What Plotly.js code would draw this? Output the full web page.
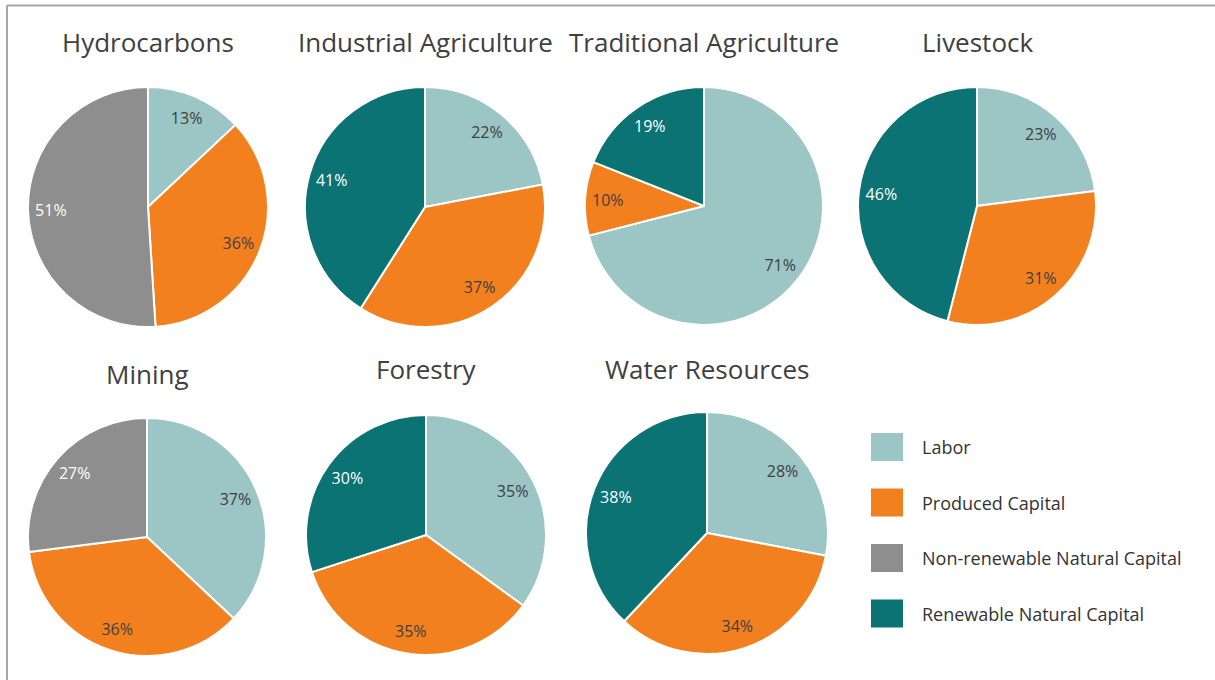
<!DOCTYPE html>
<html>
<head>
<meta charset="utf-8">
<script src="https://cdn.plot.ly/plotly-3.0.1.min.js"></script>
<style>
  html, body { margin: 0; padding: 0; background: #ffffff; }
  #chart { width: 1215px; height: 680px; }
</style>
</head>
<body>
<div id="chart"></div>
<script>
// ---------- DATA ----------
const sectors = ["Hydrocarbons", "Industrial Agriculture", "Traditional Agriculture", "Livestock",
                 "Mining", "Forestry", "Water Resources"];
const categories = ["Labor", "Produced Capital", "Non-renewable Natural Capital", "Renewable Natural Capital"];

// slice labels of each pie (clockwise from 12 o'clock)
const hydrocarbonsLabels = ["Labor", "Produced Capital", "Non-renewable Natural Capital"];
const hydrocarbonsValues = [13, 36, 51];
const industrialAgLabels = ["Labor", "Produced Capital", "Renewable Natural Capital"];
const industrialAgValues = [22, 37, 41];
const traditionalAgLabels = ["Labor", "Produced Capital", "Renewable Natural Capital"];
const traditionalAgValues = [71, 10, 19];
const livestockLabels = ["Labor", "Produced Capital", "Renewable Natural Capital"];
const livestockValues = [23, 31, 46];
const miningLabels = ["Labor", "Produced Capital", "Non-renewable Natural Capital"];
const miningValues = [37, 36, 27];
const forestryLabels = ["Labor", "Produced Capital", "Renewable Natural Capital"];
const forestryValues = [35, 35, 30];
const waterLabels = ["Labor", "Produced Capital", "Renewable Natural Capital"];
const waterValues = [28, 34, 38];

const pieLabels = [hydrocarbonsLabels, industrialAgLabels, traditionalAgLabels, livestockLabels,
                   miningLabels, forestryLabels, waterLabels];
const pieValues = [hydrocarbonsValues, industrialAgValues, traditionalAgValues, livestockValues,
                   miningValues, forestryValues, waterValues];

// ---------- STYLE / LAYOUT ----------
const W = 1215, H = 680;
const colorOf = {
  "Labor": "#9CC5C6",
  "Produced Capital": "#F2801E",
  "Non-renewable Natural Capital": "#8E8E8E",
  "Renewable Natural Capital": "#0B7373"
};
const textColorOf = {
  "Labor": "#404040",
  "Produced Capital": "#404040",
  "Non-renewable Natural Capital": "#ffffff",
  "Renewable Natural Capital": "#ffffff"
};
// pixel geometry of each pie: [cx, cy, r] and title centre y
const pieGeom = [
  [148, 207, 120], [425, 207, 120], [704, 206, 119], [977, 206, 119],
  [147, 537, 119], [426, 535, 120], [707, 533, 121]
];
const titleY = [42, 42, 42, 42, 374, 369, 369];
const FONT = "'Open Sans', Lato, sans-serif";

const traces = [];
pieLabels.forEach((labs, i) => {
  const [cx, cy, r] = pieGeom[i];
  const domain = { x: [(cx - r) / W, (cx + r) / W], y: [1 - (cy + r) / H, 1 - (cy - r) / H] };
  // filled pie
  traces.push({
    type: "pie",
    name: sectors[i],
    labels: labs,
    values: pieValues[i],
    sort: false,
    direction: "clockwise",
    rotation: 0,
    domain: domain,
    marker: { colors: labs.map(l => colorOf[l]), line: { color: "#ffffff", width: 2 } },
    textinfo: "none",
    hoverinfo: "label+percent",
    showlegend: false
  });
  // label layer: transparent ring so the value labels sit near the rim
  traces.push({
    type: "pie",
    name: sectors[i] + " labels",
    labels: labs,
    values: pieValues[i],
    sort: false,
    direction: "clockwise",
    rotation: 0,
    hole: 0.62,
    domain: domain,
    marker: { colors: labs.map(() => "rgba(0,0,0,0)"), line: { width: 0 } },
    texttemplate: "%{value}%",
    textposition: "inside",
    insidetextorientation: "horizontal",
    insidetextfont: { family: FONT, size: 16, color: labs.map(l => textColorOf[l]) },
    hoverinfo: "skip",
    showlegend: false
  });
});

const annotations = [];
const shapes = [];
sectors.forEach((s, i) => {
  annotations.push({
    text: s, xref: "paper", yref: "paper",
    x: pieGeom[i][0] / W, y: 1 - titleY[i] / H,
    xanchor: "center", yanchor: "middle", showarrow: false,
    font: { family: FONT, size: 26, color: "#404040" }
  });
});

// legend (swatch + text for each category)
const legX0 = 871, legW = 32, legH = 28, legTop = 433, legStep = 55.5, legTextX = 920;
categories.forEach((c, i) => {
  const y0 = legTop + i * legStep;
  shapes.push({
    type: "rect", xref: "paper", yref: "paper",
    x0: legX0 / W, x1: (legX0 + legW) / W,
    y0: 1 - (y0 + legH) / H, y1: 1 - y0 / H,
    fillcolor: colorOf[c], line: { width: 0 }
  });
  annotations.push({
    text: c, xref: "paper", yref: "paper",
    x: legTextX / W, y: 1 - (y0 + legH / 2) / H,
    xanchor: "left", yanchor: "middle", showarrow: false,
    font: { family: FONT, size: 18, color: "#333333" }
  });
});

// frame lines (top and left)
shapes.push({ type: "line", xref: "paper", yref: "paper", x0: 7 / W, x1: 1, y0: 1 - 5.5 / H, y1: 1 - 5.5 / H,
              line: { color: "#A6A6A6", width: 2 } });
shapes.push({ type: "line", xref: "paper", yref: "paper", x0: 7 / W, x1: 7 / W, y0: 0, y1: 1 - 5.5 / H,
              line: { color: "#A6A6A6", width: 2 } });

const layout = {
  width: W, height: H,
  margin: { l: 0, r: 0, t: 0, b: 0 },
  paper_bgcolor: "#ffffff",
  showlegend: false,
  annotations: annotations,
  shapes: shapes,
  font: { family: FONT }
};

Plotly.newPlot("chart", traces, layout, { displayModeBar: false, staticPlot: true });
</script>
</body>
</html>
